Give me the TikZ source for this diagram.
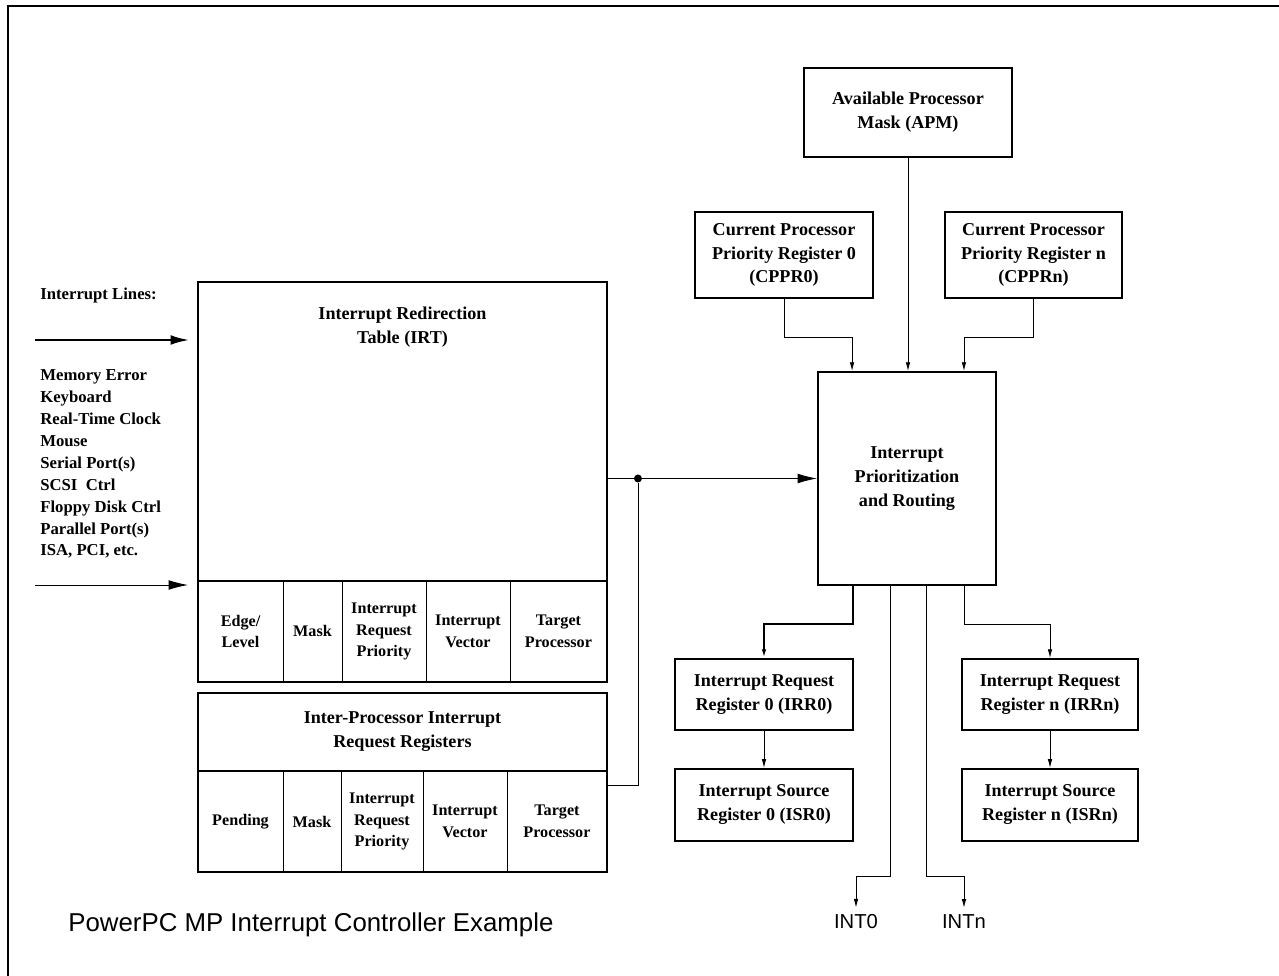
\documentclass[tikz,border=0pt]{standalone}
\usepackage{fontspec}
\setmainfont{Liberation Serif}
\setsansfont{Liberation Sans}
\usetikzlibrary{calc}
\usetikzlibrary{positioning}
\usetikzlibrary{arrows.meta}
\tikzset{
  boxfont/.style={font=\fontsize{10.3}{13.6}\selectfont\bfseries},
  cellfont/.style={font=\fontsize{9.2}{12.4}\selectfont\bfseries},
  listfont/.style={font=\fontsize{9.5}{12.5}\selectfont\bfseries},
  reg/.style={draw, line width=1.1pt, align=center, inner sep=0pt, boxfont},
  cell/.style={draw, line width=0.5pt, align=center, inner sep=0pt, outer sep=0pt, cellfont, minimum height=2.02cm},
  wire/.style={line width=0.5pt},
  smallhead/.style={-{Latex[length=5pt,width=2.6pt]}},
  bighead/.style={-{Latex[length=11pt,width=5.5pt]}},
}

\begin{document}
\begin{tikzpicture}[x=0.02cm, y=-0.02cm]
  \useasboundingbox (0,0) rectangle (1279,976);
  \draw [line width=1.4pt] (8,976) -- (8,6) -- (1279,6);

  % redirection table
  \node [draw, line width=1.6pt, outer sep=0pt, inner sep=0pt, minimum width=8.18cm, minimum height=5.98cm] (irt) at (402.5,431.5) {};
  \node [boxfont, align=center, inner sep=0pt, below=0.5cm of irt.north] (irttitle) {Interrupt Redirection\\Table (IRT)};
  \node [cell, minimum width=1.7cm, anchor=north west] (irtedge) at (irt.south west) {Edge/\\Level};
  \node [cell, minimum width=1.18cm, right=0pt of irtedge] (irtmask) {Mask};
  \node [cell, minimum width=1.68cm, right=0pt of irtmask] (irtprio) {Interrupt\\Request\\Priority};
  \node [cell, minimum width=1.68cm, right=0pt of irtprio] (irtvec) {Interrupt\\Vector};
  \node [cell, minimum width=1.94cm, right=0pt of irtvec] (irttarget) {Target\\Processor};
  \draw [line width=1.6pt] (irt.north west) rectangle (irttarget.south east);

  % inter-processor registers
  \node [reg, line width=1.6pt, outer sep=0pt, minimum width=8.18cm, minimum height=1.56cm] (ipi) at (402.5,732) {Inter-Processor Interrupt\\Request Registers};
  \node [cell, minimum width=1.7cm, anchor=north west] (ipipend) at (ipi.south west) {Pending};
  \node [cell, minimum width=1.16cm, right=0pt of ipipend] (ipimask) {Mask};
  \node [cell, minimum width=1.64cm, right=0pt of ipimask] (ipiprio) {Interrupt\\Request\\Priority};
  \node [cell, minimum width=1.68cm, right=0pt of ipiprio] (ipivec) {Interrupt\\Vector};
  \node [cell, minimum width=2.0cm, right=0pt of ipivec] (ipitarget) {Target\\Processor};
  \draw [line width=1.6pt] (ipi.north west) rectangle (ipitarget.south east);

  % interrupt lines
  \node [listfont, anchor=base west, inner sep=0pt] (lineslabel) at (40,300) {Interrupt Lines:};
  \node [listfont, anchor=north west, align=left, inner sep=0pt] (sources) at (40,369) {Memory Error\\Keyboard\\Real-Time Clock\\Mouse\\Serial Port(s)\\SCSI~ Ctrl\\Floppy Disk Ctrl\\Parallel Port(s)\\ISA, PCI, etc.};
  \coordinate (topin) at (35,340);
  \coordinate (botin) at (35,585);
  \draw [line width=1.6pt, bighead, shorten >=0.16cm] (topin) -- (topin -| irt.west);
  \draw [wire, bighead, shorten >=0.2cm] (botin) -- (botin -| irt.west);

  % processor side
  \node [reg, minimum width=4.16cm, minimum height=1.78cm] (apm) at (908,112.5) {Available Processor\\Mask (APM)};
  \node [reg, minimum width=3.56cm, minimum height=1.72cm] (cppr0) at (784,255) {Current Processor\\Priority Register 0\\(CPPR0)};
  \node [reg, minimum width=3.54cm, minimum height=1.72cm] (cpprn) at (1033.5,255) {Current Processor\\Priority Register n\\(CPPRn)};
  \node [reg, minimum width=3.56cm, minimum height=4.26cm] (prio) at (907,478.5) {Interrupt\\Prioritization\\and Routing};
  \node [reg, minimum width=3.56cm, minimum height=1.42cm] (irr0) at (764,694.5) {Interrupt Request\\Register 0 (IRR0)};
  \node [reg, minimum width=3.56cm, minimum height=1.44cm, below=0.74cm of irr0] (isr0) {Interrupt Source\\Register 0 (ISR0)};
  \node [reg, minimum width=3.52cm, minimum height=1.42cm] (irrn) at (1050,694.5) {Interrupt Request\\Register n (IRRn)};
  \node [reg, minimum width=3.52cm, minimum height=1.44cm, below=0.74cm of irrn] (isrn) {Interrupt Source\\Register n (ISRn)};
  \node [font=\sffamily\fontsize{11.5}{14}\selectfont, anchor=base] (int0) at (856,928) {INT0};
  \node [font=\sffamily\fontsize{11.5}{14}\selectfont, anchor=base] (intn) at (964,928) {INTn};

  \node [circle, fill, inner sep=0pt, minimum size=0.16cm] (split) at ($(irt.east |- prio.west)+(31,0)$) {};
  \draw [wire, bighead] (irt.east |- prio.west) -- (prio.west);
  \draw [wire] ($(ipitarget.north east)!0.14!(ipitarget.south east)$) -| (split);

  \draw [wire, smallhead] (apm.south) -- (apm.south |- prio.north);
  \draw [wire, smallhead] (cppr0.south) -- ++(0,38) -| ($(prio.north west)+(35,0)$);
  \draw [wire, smallhead] (cpprn.south) -- ++(0,38) -| ($(prio.north east)+(-33,0)$);

  \draw [line width=1.2pt, smallhead] ($(prio.south west)+(36,0)$) -- ++(0,38) -| (irr0.north);
  \draw [wire, smallhead] ($(prio.south east)+(-33,0)$) -- ++(0,38) -| (irrn.north);
  \draw [wire, smallhead] ($(prio.south west)+(73,0)$) -- ++(0,290) -| (int0.north);
  \draw [wire, smallhead] ($(prio.south west)+(109,0)$) -- ++(0,290) -| (intn.north);
  \draw [wire, smallhead] (irr0) -- (isr0);
  \draw [wire, smallhead] (irrn) -- (isrn);

  \node [font=\sffamily\fontsize{14.7}{17}\selectfont, anchor=base west, inner sep=0pt] (caption) at (68,931) {PowerPC MP Interrupt Controller Example};
\end{tikzpicture}
\end{document}
